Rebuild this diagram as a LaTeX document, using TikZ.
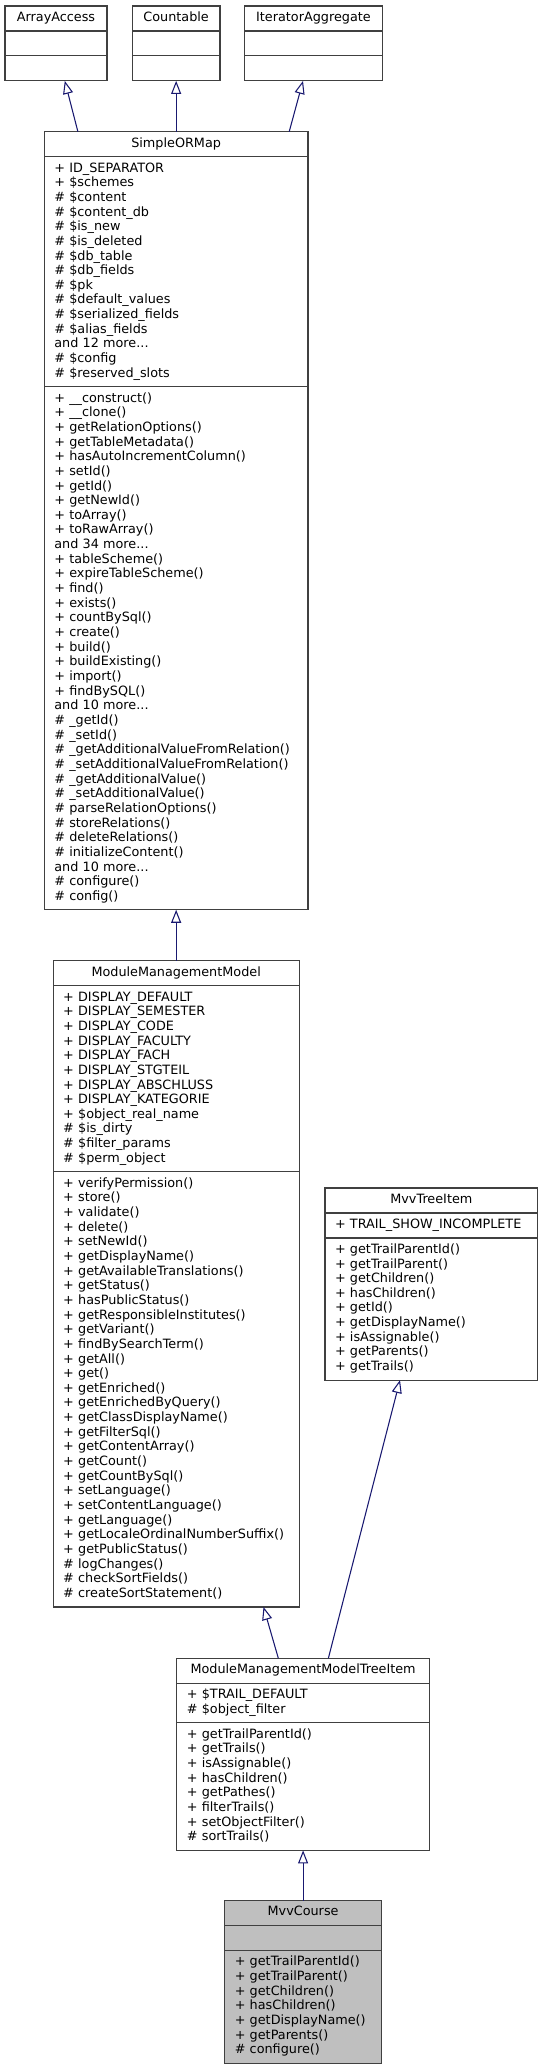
\documentclass[tikz,border=0pt]{standalone}
\usepackage{fontspec}
\setmainfont{DejaVu Sans}
\usepackage{xcolor}
\usepackage{tikz}
\usetikzlibrary{positioning,arrows.meta}
\hyphenpenalty=10000
\exhyphenpenalty=10000
\definecolor{frame}{HTML}{404040}
\definecolor{edgeblue}{HTML}{191970}
\definecolor{focus}{HTML}{BFBFBF}
\newcommand{\pix}{0.75pt}

\begin{document}
\begin{tikzpicture}[x=0.75pt,y=-0.75pt,node distance=0pt,
                    box/.style={draw=frame,line width=0.8pt,inner xsep=10*\pix,inner ysep=0pt,outer sep=0pt,
                                text width=(#1-20)*\pix,align=left,
                                font=\fontsize{9.6}{10.99}\selectfont,
                                execute at begin node=\strut,execute at end node=\strut},
                    head/.style={box=#1,align=center,minimum height=25*\pix},
                    lines/.style={minimum height=(#1*14.65+10.3)*\pix},
                    isa/.style={color=edgeblue,line width=0.8pt,-{Triangle[open,length=9.75pt,width=7.5pt]}}]
  \useasboundingbox (0,0) rectangle (543,2071);

  % interfaces
  \node[head=102,anchor=north] (arrayaccess) at (56,6) {ArrayAccess};
  \node[box=102,lines=1,below=of arrayaccess] (arrayaccess a) {};
  \node[box=102,lines=1,below=of arrayaccess a] (arrayaccess m) {};

  \node[head=87.7,anchor=north] (countable) at (176.15,6) {Countable};
  \node[box=87.7,lines=1,below=of countable] (countable a) {};
  \node[box=87.7,lines=1,below=of countable a] (countable m) {};

  \node[head=138,anchor=north] (iterator) at (313.5,6) {IteratorAggregate};
  \node[box=138,lines=1,below=of iterator] (iterator a) {};
  \node[box=138,lines=1,below=of iterator a] (iterator m) {};

  % SimpleORMap
  \node[head=263.7,anchor=north] (simple) at (176.15,131.7) {SimpleORMap};
  \node[box=263.7,lines=15,below=of simple] (simple a) {+ ID\_SEPARATOR\\
    + \$schemes\\
    \# \$content\\
    \# \$content\_db\\
    \# \$is\_new\\
    \# \$is\_deleted\\
    \# \$db\_table\\
    \# \$db\_fields\\
    \# \$pk\\
    \# \$default\_values\\
    \# \$serialized\_fields\\
    \# \$alias\_fields\\
    and 12 more...\\
    \# \$config\\
    \# \$reserved\_slots};
  \node[box=263.7,lines=35,below=of simple a] (simple m) {+ \_\_construct()\\
    + \_\_clone()\\
    + getRelationOptions()\\
    + getTableMetadata()\\
    + hasAutoIncrementColumn()\\
    + setId()\\
    + getId()\\
    + getNewId()\\
    + toArray()\\
    + toRawArray()\\
    and 34 more...\\
    + tableScheme()\\
    + expireTableScheme()\\
    + find()\\
    + exists()\\
    + countBySql()\\
    + create()\\
    + build()\\
    + buildExisting()\\
    + import()\\
    + findBySQL()\\
    and 10 more...\\
    \# \_getId()\\
    \# \_setId()\\
    \# \_getAdditionalValueFromRelation()\\
    \# \_setAdditionalValueFromRelation()\\
    \# \_getAdditionalValue()\\
    \# \_setAdditionalValue()\\
    \# parseRelationOptions()\\
    \# storeRelations()\\
    \# deleteRelations()\\
    \# initializeContent()\\
    and 10 more...\\
    \# configure()\\
    \# config()};

  % ModuleManagementModel
  \node[head=246,anchor=north] (model) at (176.15,960.7) {ModuleManagementModel};
  \node[box=246,lines=12,below=of model] (model a) {+ DISPLAY\_DEFAULT\\
    + DISPLAY\_SEMESTER\\
    + DISPLAY\_CODE\\
    + DISPLAY\_FACULTY\\
    + DISPLAY\_FACH\\
    + DISPLAY\_STGTEIL\\
    + DISPLAY\_ABSCHLUSS\\
    + DISPLAY\_KATEGORIE\\
    + \$object\_real\_name\\
    \# \$is\_dirty\\
    \# \$filter\_params\\
    \# \$perm\_object};
  \node[box=246,lines=29,below=of model a] (model m) {+ verifyPermission()\\
    + store()\\
    + validate()\\
    + delete()\\
    + setNewId()\\
    + getDisplayName()\\
    + getAvailableTranslations()\\
    + getStatus()\\
    + hasPublicStatus()\\
    + getResponsibleInstitutes()\\
    + getVariant()\\
    + findBySearchTerm()\\
    + getAll()\\
    + get()\\
    + getEnriched()\\
    + getEnrichedByQuery()\\
    + getClassDisplayName()\\
    + getFilterSql()\\
    + getContentArray()\\
    + getCount()\\
    + getCountBySql()\\
    + setLanguage()\\
    + setContentLanguage()\\
    + getLanguage()\\
    + getLocaleOrdinalNumberSuffix()\\
    + getPublicStatus()\\
    \# logChanges()\\
    \# checkSortFields()\\
    \# createSortStatement()};

  % MvvTreeItem
  \node[head=212.7,anchor=north] (mvvtree) at (431.35,1188) {MvvTreeItem};
  \node[box=212.7,lines=1,below=of mvvtree] (mvvtree a) {+ TRAIL\_SHOW\_INCOMPLETE};
  \node[box=212.7,lines=9,below=of mvvtree a] (mvvtree m) {+ getTrailParentId()\\
    + getTrailParent()\\
    + getChildren()\\
    + hasChildren()\\
    + getId()\\
    + getDisplayName()\\
    + isAssignable()\\
    + getParents()\\
    + getTrails()};

  % ModuleManagementModelTreeItem
  \node[head=252.5,anchor=north] (modeltree) at (303.1,1658.3) {ModuleManagementModelTreeItem};
  \node[box=252.5,lines=2,below=of modeltree] (modeltree a) {+ \$TRAIL\_DEFAULT\\
    \# \$object\_filter};
  \node[box=252.5,lines=8,below=of modeltree a] (modeltree m) {+ getTrailParentId()\\
    + getTrails()\\
    + isAssignable()\\
    + hasChildren()\\
    + getPathes()\\
    + filterTrails()\\
    + setObjectFilter()\\
    \# sortTrails()};

  % MvvCourse
  \node[head=156.7,fill=focus,anchor=north] (course) at (303.1,1900.5) {MvvCourse};
  \node[box=156.7,lines=1,fill=focus,below=of course] (course a) {};
  \node[box=156.7,lines=7,fill=focus,below=of course a] (course m) {+ getTrailParentId()\\
    + getTrailParent()\\
    + getChildren()\\
    + hasChildren()\\
    + getDisplayName()\\
    + getParents()\\
    \# configure()};

  \path[isa]
    ([xshift=33.6*\pix]simple.north west) edge ([xshift=8.8*\pix]arrayaccess m.south)
    (simple.north) edge (countable m.south)
    ([xshift=-18.8*\pix]simple.north east) edge ([xshift=-10.5*\pix]iterator m.south)
    (model.north) edge (simple m.south)
    ([xshift=101.5*\pix]modeltree.north west) edge ([xshift=-35.65*\pix]model m.south east)
    ([xshift=151.5*\pix]modeltree.north west) edge ([xshift=-31.35*\pix]mvvtree m.south)
    (course.north) edge (modeltree m.south);
\end{tikzpicture}
\end{document}
